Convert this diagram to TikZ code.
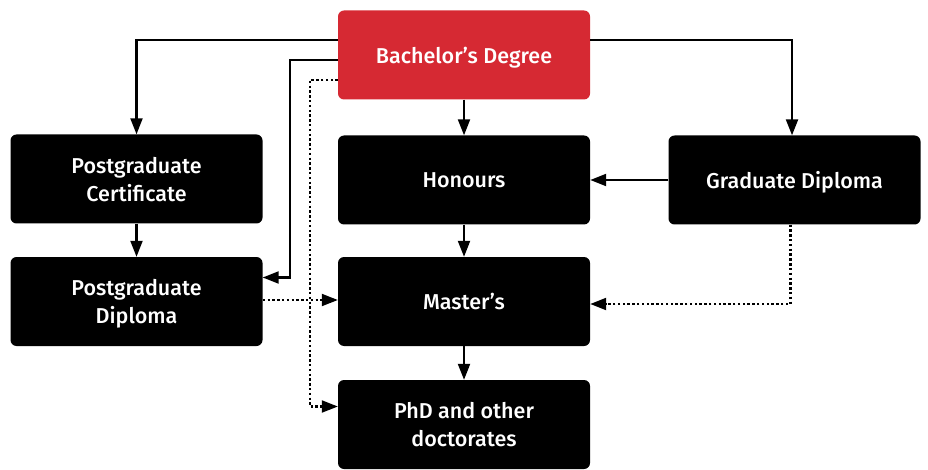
\documentclass[tikz,border=0pt]{standalone}
\usepackage{fontspec}
\setmainfont{Fira Sans}[BoldFont={Fira Sans Medium}]
\usetikzlibrary{arrows.meta}
\definecolor{unired}{RGB}{214,41,51}
\begin{document}
\begin{tikzpicture}[x=1pt, y=-1pt,
    box/.style = {fill=black, text=white, rounded corners=6pt, minimum width=252pt,
                  minimum height=89pt, text depth=0pt, align=center,
                  font=\fontsize{21.5}{28}\selectfont\bfseries},
    arr/.style = {line width=2.2pt, -{Triangle[length=16pt,width=12pt]}},
    dots/.style = {arr, dash pattern=on 2.4pt off 2.4pt}]
  \useasboundingbox (0,0) rectangle (928,470);
  \node[box, fill=unired] (bach) at (464,55) {Bachelor’s Degree};
  \node[box] (cert) at (136.5,179) {Postgraduate\\Certificate};
  \node[box] (hons) at (464,180) {Honours};
  \node[box] (grad) at (794.5,180) {Graduate Diploma};
  \node[box] (pgd) at (136.5,301.5) {Postgraduate\\Diploma};
  \node[box] (mast) at (464,301.5) {Master’s};
  \node[box] (phd) at (464,424.5) {PhD and other\\doctorates};

  \draw[arr] ([yshift=15pt]bach.west) -| (cert.north);
  \draw[arr] ([yshift=15pt]bach.east) -| ([xshift=-2.5pt]grad.north);
  \draw[arr] ([yshift=-5pt]bach.west) -| ([xshift=27pt,yshift=24pt]pgd.east) -- ([yshift=24pt]pgd.east);
  \draw[dots] ([yshift=-25pt]bach.west) -| ([xshift=-28pt,yshift=18pt]phd.west) -- ([yshift=18pt]phd.west);
  \draw[arr] (bach) -- (hons);
  \draw[arr] (hons) -- (mast);
  \draw[arr] (mast) -- (phd);
  \draw[arr] (cert) -- (pgd);
  \draw[arr] (grad) -- (hons);
  \draw[dots] ([yshift=1.5pt]pgd.east) -- ([yshift=1.5pt]mast.west);
  \draw[dots] ([xshift=-4pt]grad.south) |- ([yshift=-2.5pt]mast.east);
\end{tikzpicture}
\end{document}
